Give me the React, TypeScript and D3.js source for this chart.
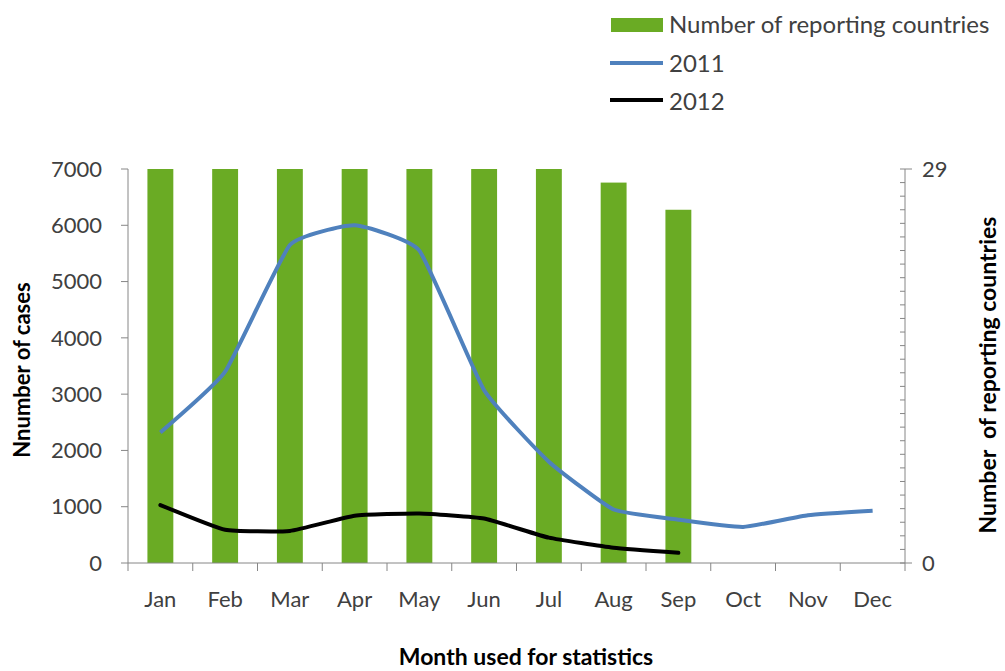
import React, { useEffect, useRef } from 'react';
import * as d3 from 'd3';

const months = ['Jan', 'Feb', 'Mar', 'Apr', 'May', 'Jun', 'Jul', 'Aug', 'Sep', 'Oct', 'Nov', 'Dec'];
// number of reporting countries (right axis)
const countries = [29, 29, 29, 29, 29, 29, 29, 28, 26];
const cases2011 = [2320, 3400, 5650, 6000, 5550, 3070, 1800, 950, 770, 640, 850, 930];
const cases2012 = [1030, 590, 570, 840, 880, 790, 450, 270, 180];
const leftTicks = [0, 1000, 2000, 3000, 4000, 5000, 6000, 7000];

const FONT = 'Lato, "Open Sans", sans-serif';
const GREEN = '#6aab24';
const BLUE = '#4f81bd';
const AXIS = '#868686';
const TEXT = '#404040';

const App: React.FC = () => {
  const ref = useRef<SVGSVGElement | null>(null);

  useEffect(() => {
    if (!ref.current) return;
    const svg = d3.select(ref.current);
    svg.selectAll('*').remove();

    const left = 128;
    const right = 905;
    const top = 169;
    const bottom = 563;

    const x = d3.scaleBand<string>().domain(months).range([left, right]);
    const yL = d3.scaleLinear().domain([0, 7000]).range([bottom, top]);
    const yR = d3.scaleLinear().domain([0, 29]).range([bottom, top]);
    const cx = (m: string) => (x(m) as number) + x.bandwidth() / 2;

    // bars
    const bw = x.bandwidth() * 0.4;
    svg.append('g')
      .selectAll('rect')
      .data(countries)
      .enter()
      .append('rect')
      .attr('x', (_, i) => cx(months[i]) - bw / 2)
      .attr('y', d => yR(d))
      .attr('width', bw)
      .attr('height', d => bottom - yR(d))
      .attr('fill', GREEN);

    // axes
    const ax = svg.append('g').attr('stroke', AXIS).attr('stroke-width', 1);
    ax.append('line').attr('x1', left).attr('x2', left).attr('y1', top).attr('y2', bottom);
    ax.append('line').attr('x1', right).attr('x2', right).attr('y1', top).attr('y2', bottom);
    ax.append('line').attr('x1', left).attr('x2', right + 7).attr('y1', bottom).attr('y2', bottom);
    leftTicks.forEach(t => {
      ax.append('line').attr('x1', left - 7).attr('x2', left).attr('y1', yL(t)).attr('y2', yL(t));
    });
    d3.range(0, 30).forEach(t => {
      ax.append('line').attr('x1', right - 5).attr('x2', right).attr('y1', yR(t)).attr('y2', yR(t));
    });
    ax.append('line').attr('x1', right).attr('x2', right + 7).attr('y1', yR(29)).attr('y2', yR(29));
    months.forEach(m => {
      const xx = x(m) as number;
      ax.append('line').attr('x1', xx).attr('x2', xx).attr('y1', bottom).attr('y2', bottom + 8);
    });
    ax.append('line').attr('x1', right).attr('x2', right).attr('y1', bottom).attr('y2', bottom + 8);

    // tick labels
    const tl = svg.append('g').attr('font-family', FONT).attr('font-size', 22).attr('fill', TEXT);
    leftTicks.forEach(t => {
      tl.append('text').attr('x', 102).attr('y', yL(t)).attr('dy', '0.35em').attr('text-anchor', 'end').text(t);
    });
    [0, 29].forEach(t => {
      tl.append('text').attr('x', 922).attr('y', yR(t)).attr('dy', '0.35em').text(t);
    });
    months.forEach(m => {
      tl.append('text').attr('x', cx(m)).attr('y', 607).attr('text-anchor', 'middle').text(m);
    });

    // lines
    const line = d3.line<number>()
      .x((_, i) => cx(months[i]))
      .y(d => yL(d))
      .curve(d3.curveCardinal.tension(0.6));
    svg.append('path').attr('d', line(cases2011)).attr('fill', 'none')
      .attr('stroke', BLUE).attr('stroke-width', 4).attr('stroke-linejoin', 'round');
    svg.append('path').attr('d', line(cases2012)).attr('fill', 'none')
      .attr('stroke', '#000').attr('stroke-width', 4).attr('stroke-linejoin', 'round').attr('stroke-linecap', 'round');

    // titles
    const tt = svg.append('g').attr('font-family', FONT).attr('font-weight', 'bold').attr('fill', '#000');
    tt.append('text').attr('transform', 'translate(30,370) rotate(-90)').attr('text-anchor', 'middle')
      .attr('font-size', 22).text('Nnumber of cases');
    tt.append('text').attr('transform', 'translate(996,375) rotate(-90)').attr('text-anchor', 'middle')
      .attr('font-size', 23).attr('xml:space', 'preserve').text('Number  of reporting countries');
    tt.append('text').attr('x', 526).attr('y', 665).attr('text-anchor', 'middle')
      .attr('font-size', 23).text('Month used for statistics');

    // legend
    const lg = svg.append('g').attr('font-family', FONT).attr('font-size', 24).attr('fill', TEXT);
    lg.append('rect').attr('x', 611).attr('y', 18).attr('width', 52).attr('height', 14).attr('fill', GREEN);
    lg.append('text').attr('x', 669).attr('y', 33).text('Number of reporting countries');
    lg.append('line').attr('x1', 610).attr('x2', 663).attr('y1', 63).attr('y2', 63).attr('stroke', BLUE).attr('stroke-width', 4);
    lg.append('text').attr('x', 669).attr('y', 72).text('2011');
    lg.append('line').attr('x1', 610).attr('x2', 663).attr('y1', 100).attr('y2', 100).attr('stroke', '#000').attr('stroke-width', 4);
    lg.append('text').attr('x', 669).attr('y', 110).text('2012');
  }, []);

  return (
    <svg
      ref={ref}
      width={1005}
      height={671}
      style={{ position: 'absolute', left: 0, top: 0, background: '#fff' }}
    />
  );
};

export default App;
